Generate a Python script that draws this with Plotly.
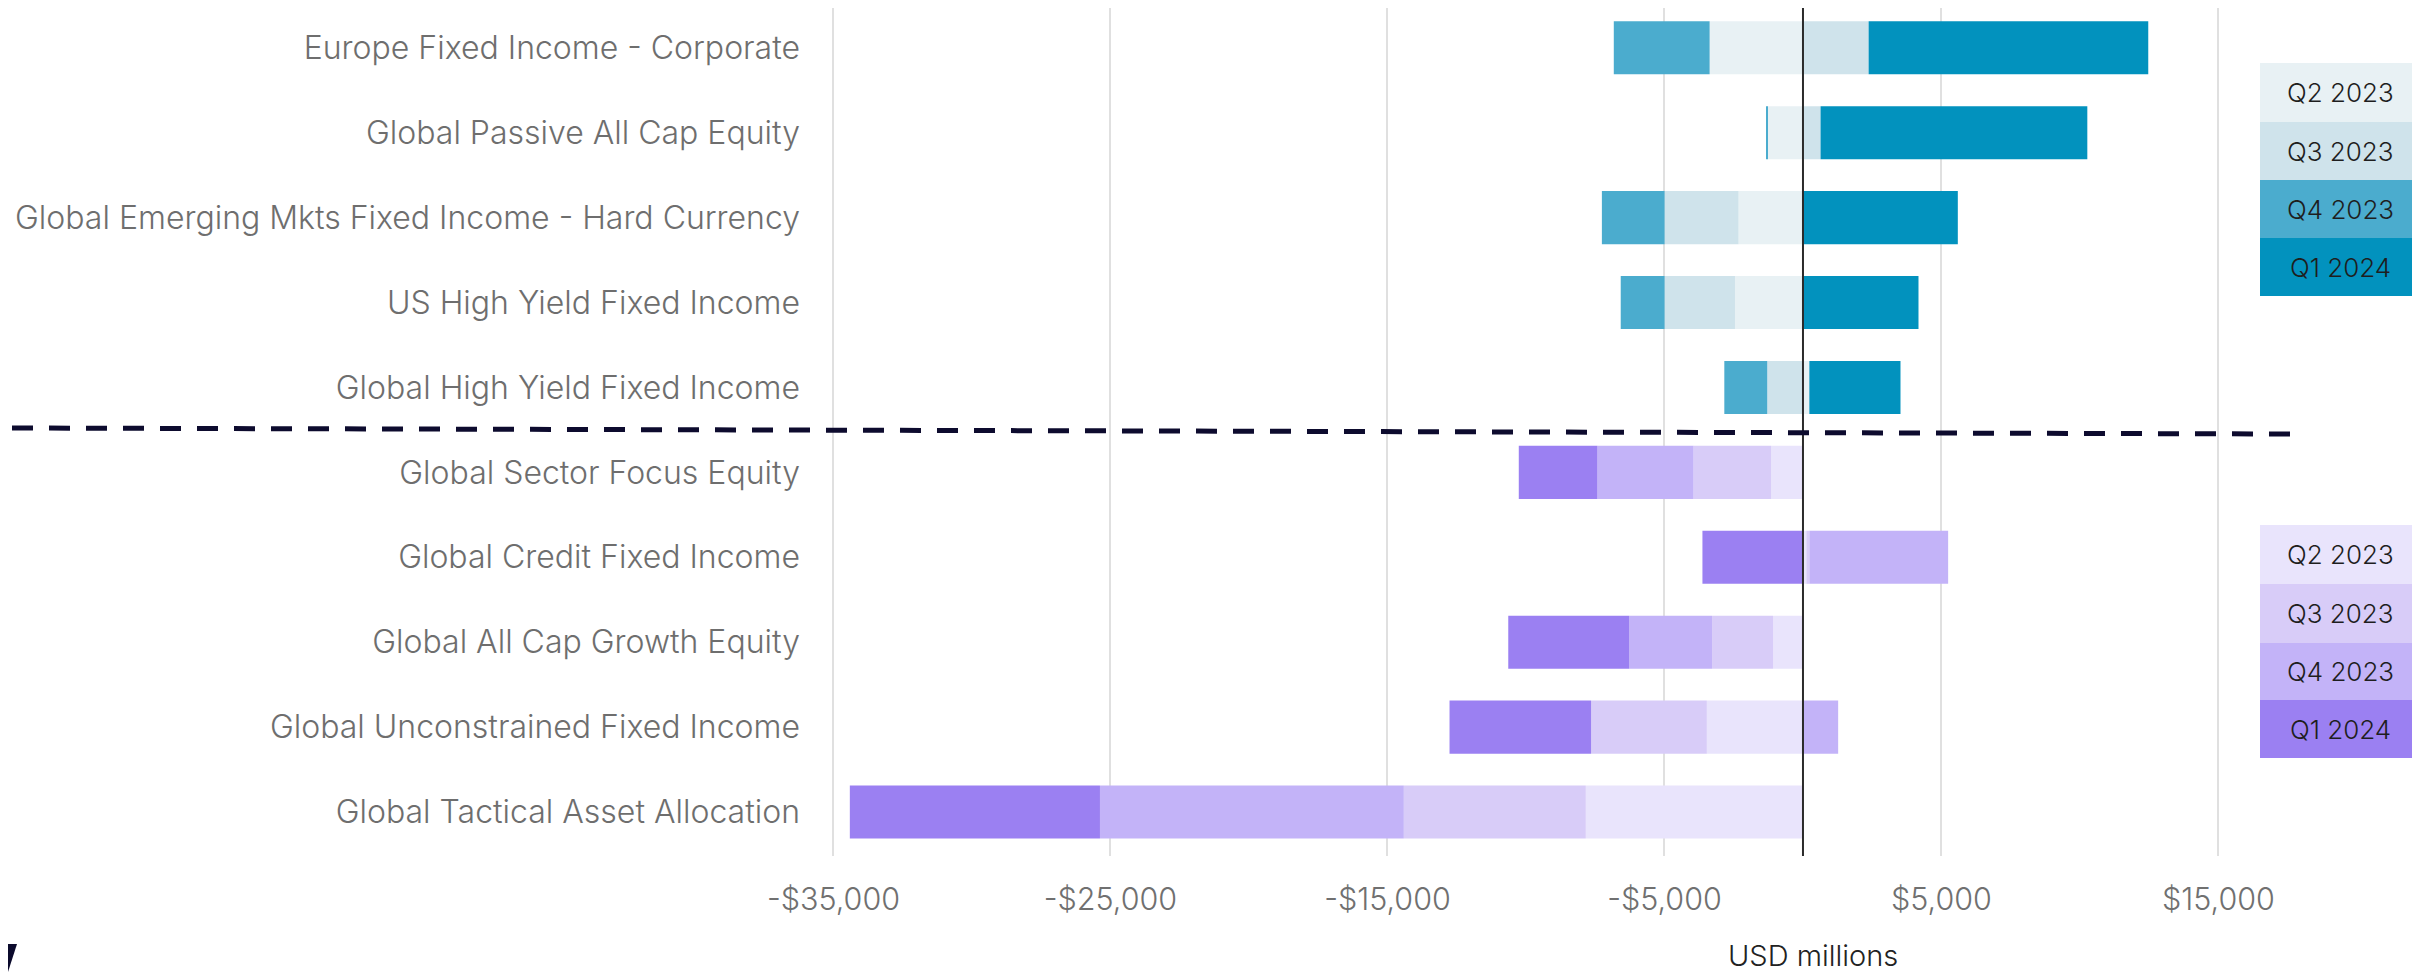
import plotly.graph_objects as go

categories = [
    "Europe Fixed Income - Corporate",
    "Global Passive All Cap Equity",
    "Global Emerging Mkts Fixed Income - Hard Currency",
    "US High Yield Fixed Income",
    "Global High Yield Fixed Income",
    "Global Sector Focus Equity",
    "Global Credit Fixed Income",
    "Global All Cap Growth Equity",
    "Global Unconstrained Fixed Income",
    "Global Tactical Asset Allocation",
]
series_names = ["Q2 2023", "Q3 2023", "Q4 2023", "Q1 2024"]
q2_2023 = [-3370, -1290, -2325, -2455, 230, -1150, 120, -1080, -3470, -7840]
q3_2023 = [2370, 635, -2670, -2540, -1290, -2800, 110, -2200, -4180, -6570]
q4_2023 = [-3460, -40, -2265, -1585, -1550, -3470, 5010, -2990, 1270, -10970]
q1_2024 = [10095, 9630, 5590, 4170, 3290, -2840, -3630, -4370, -5110, -9030]
groups = ["blue"] * 5 + ["purple"] * 5

tick_vals = [-35000, -25000, -15000, -5000, 5000, 15000]
tick_text = ["-$35,000", "-$25,000", "-$15,000", "-$5,000", "$5,000", "$15,000"]

palette = {
    "blue": ["#e8f1f4", "#cfe3eb", "#4bacce", "#0292be"],
    "purple": ["#e9e4fc", "#d8ccf8", "#c3b3f8", "#9b80f2"],
}

OFF = 8  # page body margin
W, H = 2420 - OFF, 973 - OFF
ML, MR, MT, MB = 812, 120, 0, 117
PW = W - ML - MR
PH = H - MT - MB


def px(x):  # page x -> paper
    return (x - OFF - ML) / PW


def py(y):  # page y -> paper
    return (H - MB - (y - OFF)) / PH


fig = go.Figure()
all_series = [q2_2023, q3_2023, q4_2023, q1_2024]
for i, (name, vals) in enumerate(zip(series_names, all_series)):
    fig.add_trace(go.Bar(
        y=categories, x=vals, orientation="h", name=name,
        marker=dict(color=[palette[g][i] for g in groups], line=dict(width=0)),
        width=0.625, showlegend=False,
    ))

shapes = []
shapes.append(dict(type="line", xref="x", yref="paper", x0=0, x1=0, y0=0, y1=1,
                   line=dict(color="#2b2b2b", width=2), layer="above"))
shapes.append(dict(type="line", xref="paper", yref="paper", x0=px(12), x1=px(2297),
                   y0=py(428), y1=py(434), line=dict(color="#0d0b2e", width=5, dash="21px,16px"),
                   layer="above"))
shapes.append(dict(type="path", xref="paper", yref="paper",
                   path=f"M {px(8)} {py(944)} L {px(17)} {py(944)} L {px(8)} {py(972)} Z",
                   fillcolor="#0b0a2c", line=dict(width=0), layer="above"))

annotations = []
legend_tops = {"blue": [63, 122, 180, 238, 296], "purple": [525, 584, 643, 700, 758]}
for g in ["blue", "purple"]:
    ys = legend_tops[g]
    for i, name in enumerate(series_names):
        shapes.append(dict(type="rect", xref="paper", yref="paper", x0=px(2260), x1=px(2420),
                           y0=py(ys[i + 1]), y1=py(ys[i]), fillcolor=palette[g][i],
                           line=dict(width=0), layer="above"))
        annotations.append(dict(xref="paper", yref="paper", x=px(2340), y=py((ys[i] + ys[i + 1]) / 2),
                                text=name, showarrow=False, xanchor="center", yanchor="middle",
                                font=dict(family="Inter", size=26, color="#1e1e1e", weight=300)))

annotations.append(dict(xref="paper", yref="paper", x=px(1813), y=py(955), text="USD millions",
                        showarrow=False, xanchor="center", yanchor="middle",
                        font=dict(family="Inter", size=29, color="#222222", weight=300)))

fig.update_layout(
    width=W, height=H,
    margin=dict(l=ML, r=MR, t=MT, b=MB, autoexpand=False),
    barmode="relative",
    plot_bgcolor="white", paper_bgcolor="white",
    font=dict(family="Inter", size=31, color="#6e6e6e", weight=300),
    shapes=shapes, annotations=annotations,
    xaxis=dict(range=[-35487, 17943], tickvals=tick_vals, ticktext=tick_text,
               showgrid=True, gridcolor="#e0e0e0", gridwidth=1.6, zeroline=False,
               showline=False, ticks="", ticklabelstandoff=22,
               tickfont=dict(family="Inter", size=30.5, color="#707070", weight=300)),
    yaxis=dict(categoryorder="array", categoryarray=categories, range=[9.518, -0.469],
               showgrid=False, zeroline=False, showline=False, ticks="",
               ticklabelstandoff=19,
               tickfont=dict(family="Inter", size=32, color="#6e6e6e", weight=300)),
)

fig.write_html("out.html")
